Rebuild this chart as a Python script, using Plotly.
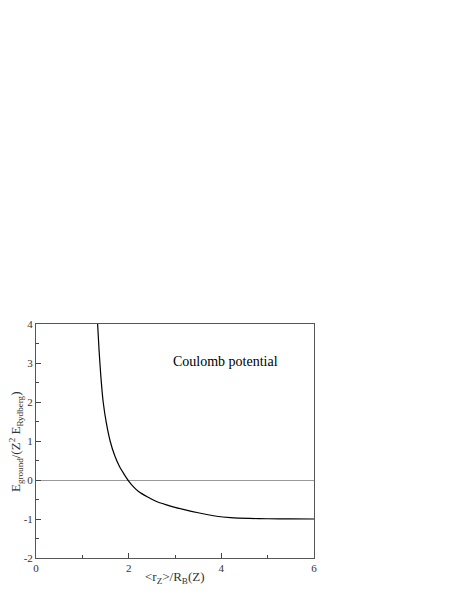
import plotly.graph_objects as go

# ground state energy of the confined atom
r_ratio = [1.33, 1.36, 1.40, 1.45, 1.52, 1.60, 1.70, 1.80, 1.90, 2.00, 2.10, 2.20,
           2.40, 2.60, 2.80, 3.00, 3.20, 3.50, 3.90, 4.20, 4.60, 5.00, 5.50, 6.00]
e_ground = [4.00, 3.35, 2.65, 2.00, 1.45, 1.00, 0.62, 0.35, 0.15, -0.03, -0.17, -0.28,
            -0.43, -0.55, -0.63, -0.70, -0.76, -0.84, -0.93, -0.965, -0.985, -0.993, -0.998, -1.00]

x_ticks = [0, 2, 4, 6]
y_ticks = [-2, -1, 0, 1, 2, 3, 4]
y_tick_text = ["-2", "-1", "0", "1", "2", "3", "4"]

serif = "Times New Roman, Liberation Serif, serif"
tick_font = dict(family=serif, size=11, color="#333")

fig = go.Figure()

fig.add_trace(go.Scatter(
    x=r_ratio,
    y=e_ground,
    mode="lines",
    line=dict(color="black", width=1.2, shape="spline", smoothing=0.6),
    showlegend=False
))

fig.add_annotation(
    x=4.1, y=3.05,
    text="Coulomb potential",
    showarrow=False,
    font=dict(family=serif, size=14, color="black")
)

# axis titles as annotations so they sit where the original has them
fig.add_annotation(
    x=0.5, y=-0.085, xref="paper", yref="paper",
    text="&lt;r<sub>Z</sub>&gt;/R<sub>B</sub>(Z)",
    showarrow=False, yanchor="middle",
    font=dict(family=serif, size=13, color="#333")
)
fig.add_annotation(
    x=-0.072, y=0.5, xref="paper", yref="paper",
    text="E<sub>ground</sub>/(Z<sup>2</sup> E<sub>Rydberg</sub>)",
    textangle=-90, showarrow=False, xanchor="center",
    font=dict(family=serif, size=13, color="#333")
)

fig.update_layout(
    width=457,
    height=591,
    # the page body adds 8px around the figure
    margin=dict(l=28, r=151, t=316, b=41),
    plot_bgcolor="white",
    paper_bgcolor="white",
    font=dict(family=serif, size=11, color="#333"),
    xaxis=dict(
        range=[0, 6],
        tickvals=x_ticks,
        tickfont=tick_font,
        ticks="inside",
        ticklen=5,
        tickcolor="#444",
        minor=dict(ticks="inside", ticklen=3, dtick=1, tickcolor="#444", showgrid=False),
        showline=True,
        linecolor="#555",
        linewidth=1,
        mirror=True,
        showgrid=False,
        zeroline=False,
        automargin=False,
    ),
    yaxis=dict(
        range=[-2, 4],
        tickvals=y_ticks,
        ticktext=y_tick_text,
        tickfont=tick_font,
        ticks="inside",
        ticklen=5,
        tickcolor="#444",
        minor=dict(ticks="inside", ticklen=3, dtick=0.5, tickcolor="#444", showgrid=False),
        showline=True,
        linecolor="#555",
        linewidth=1,
        mirror=True,
        showgrid=False,
        zeroline=True,
        zerolinecolor="#999",
        zerolinewidth=1,
        automargin=False,
    ),
)

fig.write_html("out.html")
